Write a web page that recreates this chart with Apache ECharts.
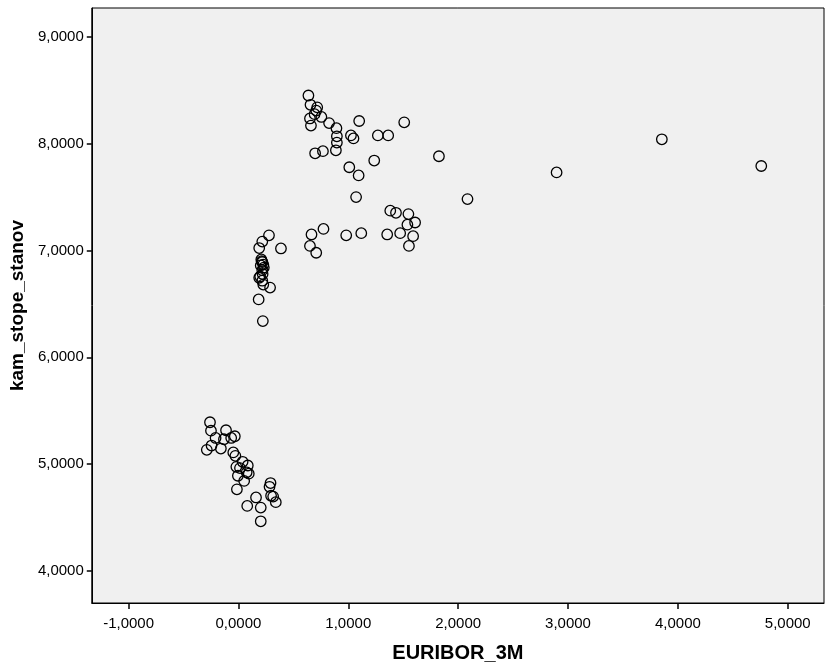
<!DOCTYPE html>
<html>
<head>
<meta charset="utf-8">
<script src="https://cdn.jsdelivr.net/npm/echarts@6/dist/echarts.min.js"></script>
<style>
html,body{margin:0;padding:0;background:#fff;}
#c{width:825px;height:668px;}
</style>
</head>
<body>
<div id="c"></div>
<script>
var xTicks = [-1, 0, 1, 2, 3, 4, 5];
var yTicks = [4, 5, 6, 7, 8, 9];

var euribor = [
  0.637, 0.656, 0.717, 0.708, 0.693, 0.755, 0.651, 0.660, 0.825, 0.892,
  0.896, 0.896, 0.887, 0.698, 0.769, 1.099, 1.024, 1.047, 1.269, 1.363,
  1.509, 1.009, 1.094, 1.236, 1.825, 1.071, 3.854, 4.759, 2.896, 2.085,
  1.382, 1.434, 1.547, 1.538, 1.608, 1.354, 1.472, 1.590, 1.552, 1.118,
  0.981, 0.774, 0.665, 0.651, 0.708,
  0.278, 0.217, 0.189, 0.387, 0.208, 0.217, 0.226, 0.203, 0.231, 0.217,
  0.198, 0.189, 0.217, 0.226, 0.288, 0.184, 0.222, 0.212, 0.220,
  -0.259, -0.250, -0.288, -0.245, -0.208, -0.160, -0.113, -0.132, -0.066, -0.033,
  -0.047, -0.028, 0.038, -0.019, 0.014, 0.085, 0.075, 0.094, -0.005, 0.052,
  -0.014, 0.292, 0.283, 0.297, 0.316, 0.340, 0.160, 0.080, 0.203, 0.203
];

var kamStope = [
  8.451, 8.364, 8.340, 8.310, 8.276, 8.250, 8.236, 8.169, 8.193, 8.145,
  8.069, 8.010, 7.938, 7.910, 7.930, 8.212, 8.077, 8.049, 8.077, 8.077,
  8.200, 7.779, 7.703, 7.842, 7.882, 7.500, 8.041, 7.791, 7.731, 7.481,
  7.373, 7.353, 7.341, 7.242, 7.262, 7.150, 7.162, 7.134, 7.043, 7.162,
  7.142, 7.202, 7.150, 7.043, 6.979,
  7.142, 7.083, 7.023, 7.019, 6.916, 6.892, 6.868, 6.860, 6.840, 6.816,
  6.757, 6.745, 6.717, 6.681, 6.653, 6.542, 6.339, 6.900, 6.780,
  5.392, 5.313, 5.134, 5.174, 5.245, 5.146, 5.317, 5.233, 5.245, 5.261,
  5.110, 5.078, 5.022, 4.975, 4.963, 4.987, 4.923, 4.911, 4.891, 4.843,
  4.764, 4.823, 4.788, 4.704, 4.696, 4.644, 4.688, 4.609, 4.593, 4.465
];

var points = euribor.map(function (x, i) { return [x, kamStope[i]]; });

function fmt(v) { return v.toFixed(4).replace('.', ','); }

var FF = 'Liberation Sans, Arial, sans-serif';
var chart = echarts.init(document.getElementById('c'), null, {renderer: 'canvas'});
chart.setOption({
  animation: false,
  backgroundColor: '#ffffff',
  textStyle: {fontFamily: FF},
  grid: {
    left: 88, top: 8, right: 1, bottom: 64,
    show: true, backgroundColor: '#f0f0f0', borderColor: '#000', borderWidth: 1,
    containLabel: false
  },
  xAxis: {
    type: 'value',
    min: -1.335, max: 5.33,
    name: 'EURIBOR_3M',
    nameLocation: 'middle',
    nameGap: 40,
    nameTextStyle: {fontSize: 20, fontWeight: 'bold', color: '#000', fontFamily: FF},
    axisLine: {show: true, onZero: false, lineStyle: {color: '#000', width: 1}},
    axisTick: {show: true, length: 6, inside: false, customValues: xTicks, lineStyle: {color: '#000', width: 1.5}},
    axisLabel: {customValues: xTicks, formatter: fmt, color: '#000', fontSize: 15, margin: 13, fontFamily: FF},
    splitLine: {show: false}
  },
  yAxis: {
    type: 'value',
    min: 3.70, max: 9.27,
    name: 'kam_stope_stanov',
    nameLocation: 'middle',
    nameGap: 62,
    nameRotate: 90,
    nameTextStyle: {fontSize: 19, fontWeight: 'bold', color: '#000', fontFamily: FF},
    axisLine: {show: true, onZero: false, lineStyle: {color: '#000', width: 1}},
    axisTick: {show: true, length: 5, inside: false, customValues: yTicks, lineStyle: {color: '#000', width: 1.5}},
    axisLabel: {customValues: yTicks, formatter: fmt, color: '#000', fontSize: 15, margin: 8, fontFamily: FF},
    splitLine: {show: false}
  },
  series: [{
    type: 'scatter',
    data: points,
    symbol: 'circle',
    symbolSize: 10.5,
    itemStyle: {color: 'rgba(0,0,0,0)', borderColor: '#000', borderWidth: 1.3, opacity: 1},
    emphasis: {disabled: true}
  }]
});
</script>
</body>
</html>
